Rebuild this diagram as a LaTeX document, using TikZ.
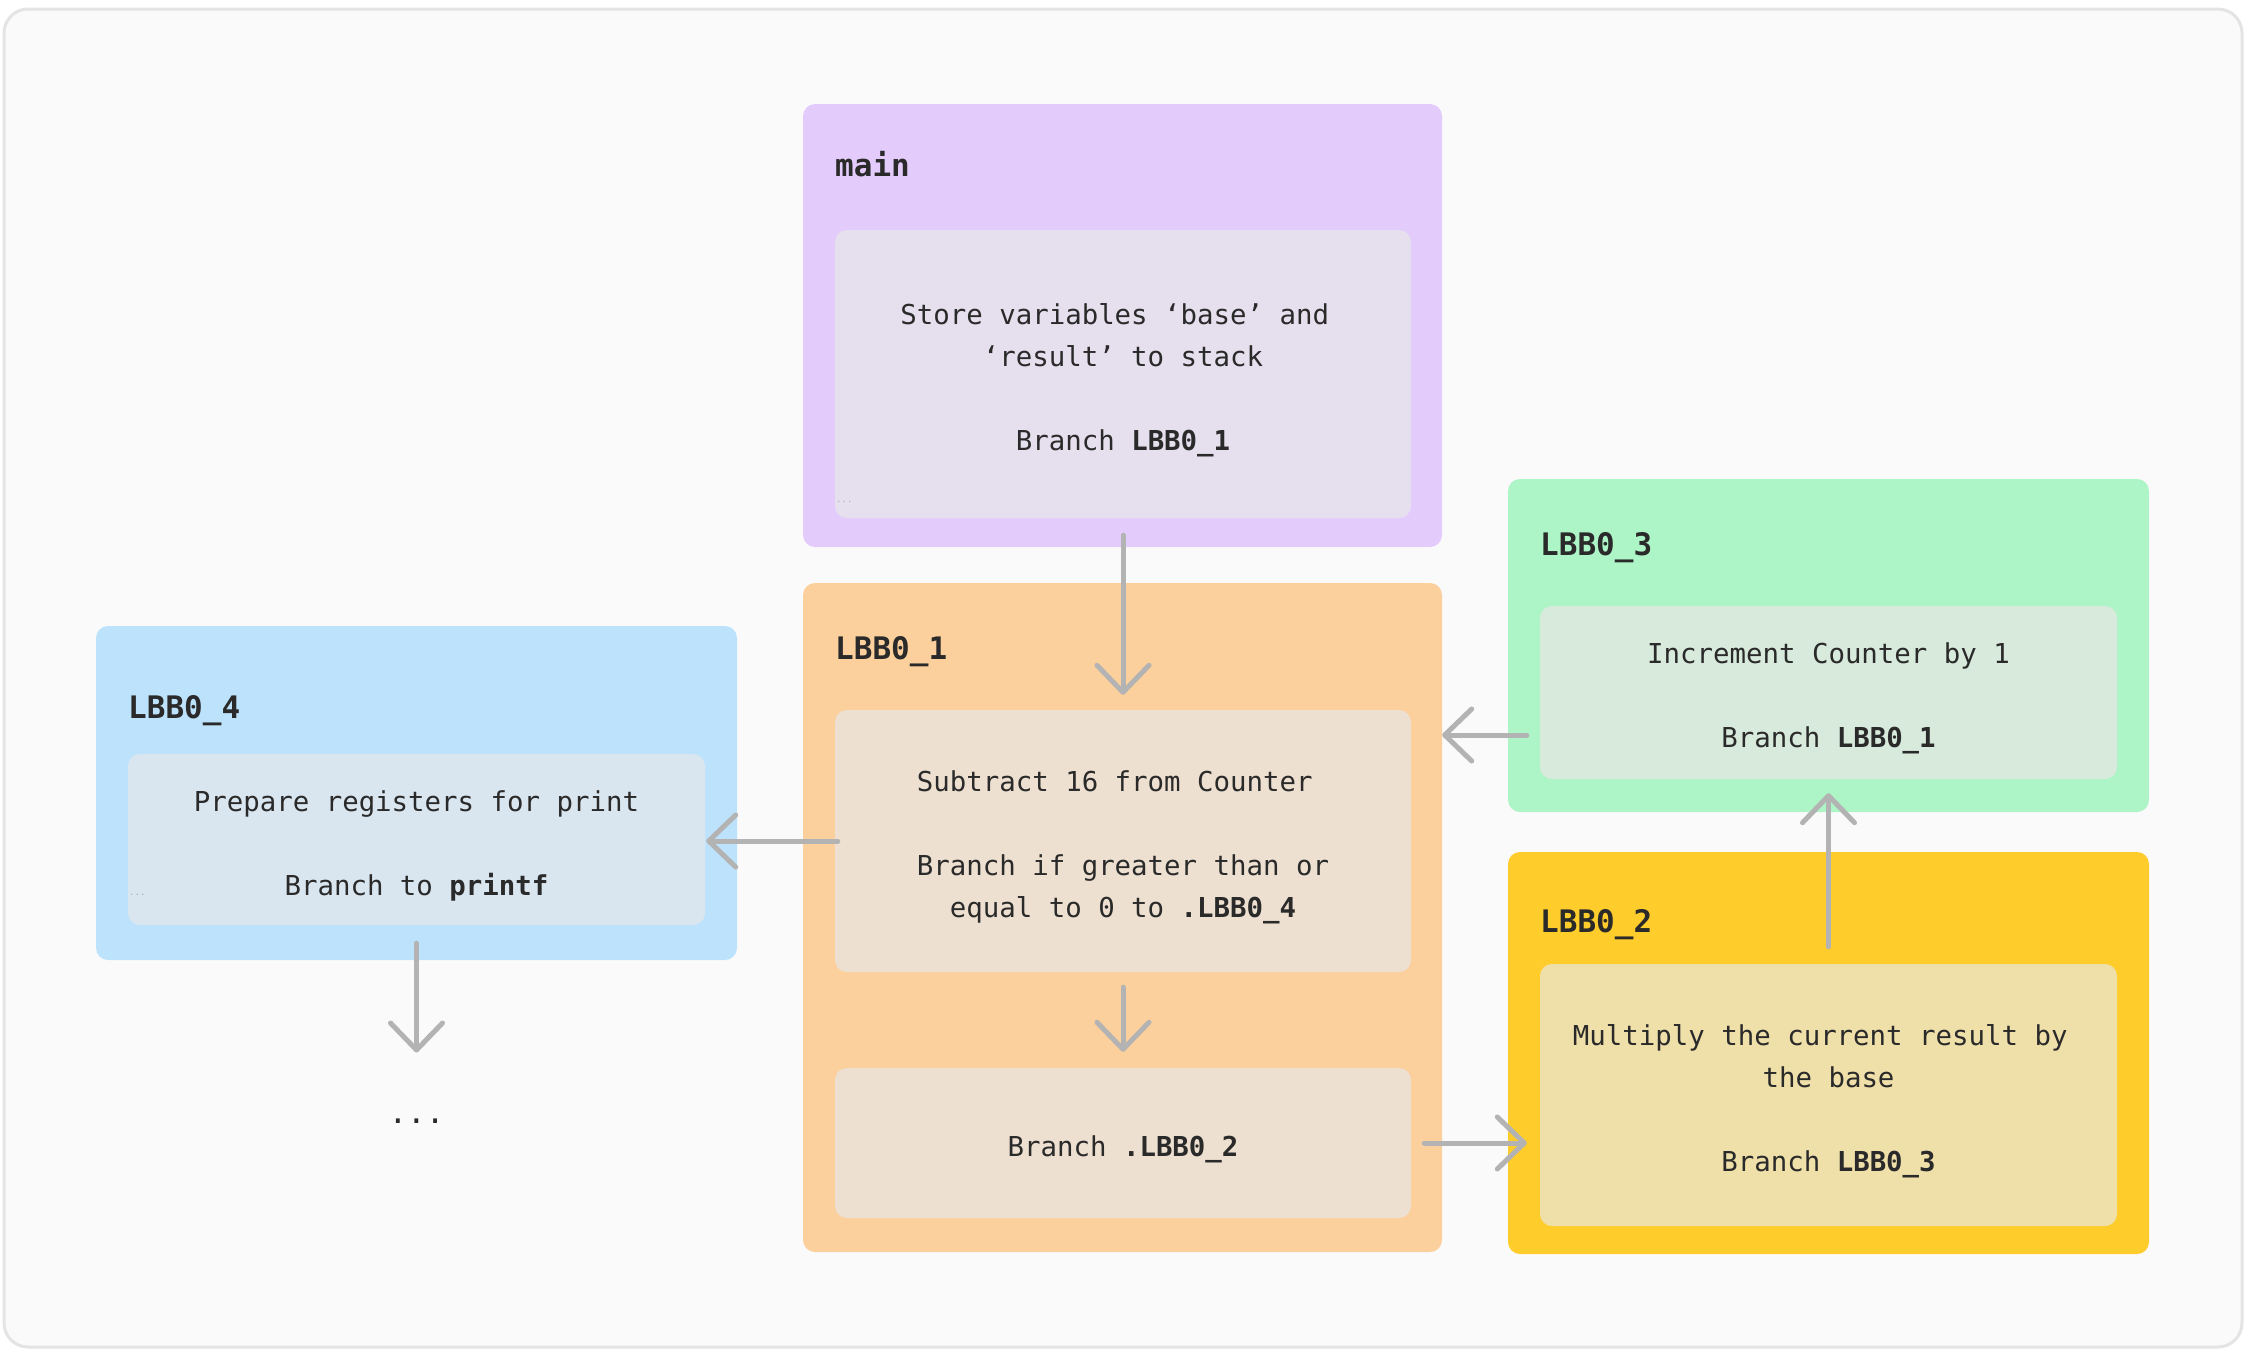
\documentclass[tikz,border=0pt]{standalone}
\usepackage{fontspec}
\setmonofont{DejaVu Sans Mono}
\usetikzlibrary{arrows.meta,calc}
\definecolor{bgc}{HTML}{FAFAFA}
\definecolor{framec}{HTML}{E4E4E4}
\definecolor{mainout}{HTML}{E3CCFC}
\definecolor{mainin}{HTML}{E6E0EE}
\definecolor{oneout}{HTML}{FBD09C}
\definecolor{onein}{HTML}{EDE0D0}
\definecolor{threeout}{HTML}{ADF4C7}
\definecolor{threein}{HTML}{D8EADC}
\definecolor{twoout}{HTML}{FFCD2B}
\definecolor{twoin}{HTML}{EFDFA9}
\definecolor{fourout}{HTML}{BDE3FC}
\definecolor{fourin}{HTML}{DAE6EF}
\definecolor{txt}{HTML}{2A2A2A}
\definecolor{arr}{HTML}{B3B3B3}
\definecolor{dotc}{HTML}{ABABAB}
\newcommand{\bodyfont}{\fontsize{27.4}{42}\selectfont\ttfamily\spaceskip=0.602em\relax}
\newcommand{\tsp}{\hspace*{0.602em}}
\begin{document}
\begin{tikzpicture}[x=1pt,y=-1pt,
  outerbox/.style={rectangle,rounded corners=12pt,inner sep=0pt,draw=none},
  innerbox/.style={rectangle,rounded corners=12pt,inner sep=0pt,draw=none},
  bodytext/.style={inner sep=0pt,align=center,text=txt,font=\bodyfont},
  titletext/.style={anchor=west,inner sep=0pt,text=txt,font=\fontsize{31}{36}\selectfont\ttfamily\bfseries},
  smalldots/.style={inner sep=0pt,text=dotc,font=\fontsize{9}{10}\selectfont\ttfamily},
  conn/.style={draw=arr,line width=5pt,line cap=round,line join=round,
    -{Straight Barb[length=27pt,width=52pt,line join=round,line cap=round]}}
]
\useasboundingbox (0,0) rectangle (2257,1355);
\draw[draw=framec,fill=bgc,line width=3pt,rounded corners=24pt] (4,9) rectangle (2242,1347);

% outer blocks
\node[outerbox,fill=mainout,minimum width=639pt,minimum height=443pt] (bmain) at (1122.5,325.5) {};
\node[outerbox,fill=oneout,minimum width=639pt,minimum height=669pt] (bone) at (1122.5,917.5) {};
\node[outerbox,fill=threeout,minimum width=641pt,minimum height=333pt] (bthree) at (1828.5,645.5) {};
\node[outerbox,fill=twoout,minimum width=641pt,minimum height=402pt] (btwo) at (1828.5,1053) {};
\node[outerbox,fill=fourout,minimum width=641pt,minimum height=334pt] (bfour) at (416.5,793) {};

% titles
\node[titletext] (tmain) at (835,164) {main};
\node[titletext] (tone) at (835,652) {LBB0\_1};
\node[titletext] (tthree) at (1540,548) {LBB0\_3};
\node[titletext] (ttwo) at (1540,925) {LBB0\_2};
\node[titletext] (tfour) at (128,711) {LBB0\_4};

% inner blocks
\node[innerbox,fill=mainin,minimum width=576pt,minimum height=288pt] (imain) at (1123,374) {};
\node[innerbox,fill=onein,minimum width=576pt,minimum height=262pt] (ione) at (1123,841) {};
\node[innerbox,fill=onein,minimum width=576pt,minimum height=150pt] (ioneb) at (1123,1143) {};
\node[innerbox,fill=threein,minimum width=577pt,minimum height=173pt] (ithree) at (1828.5,692.5) {};
\node[innerbox,fill=twoin,minimum width=577pt,minimum height=262pt] (itwo) at (1828.5,1095) {};
\node[innerbox,fill=fourin,minimum width=577pt,minimum height=171pt] (ifour) at (416.5,839.5) {};

% texts
\node[bodytext] (xmain) at ([yshift=-6pt]imain.center)
  {Store variables ‘base’ and\tsp\\‘result’ to stack\\[42pt]Branch {\bfseries LBB0\_1}};
\node[bodytext] (xone) at ([yshift=-6pt]ione.center)
  {Subtract 16 from Counter\tsp\\[42pt]Branch if greater than or\tsp\\equal to 0 to {\bfseries.LBB0\_4}};
\node[bodytext] (xoneb) at ([yshift=-6pt]ioneb.center) {Branch {\bfseries.LBB0\_2}};
\node[bodytext] (xthree) at ([yshift=-6pt]ithree.center)
  {Increment Counter by 1\\[42pt]Branch {\bfseries LBB0\_1}};
\node[bodytext] (xtwo) at ([yshift=-6pt]itwo.center)
  {Multiply the current result by\tsp\\the base\\[42pt]Branch {\bfseries LBB0\_3}};
\node[bodytext] (xfour) at ([yshift=-6pt]ifour.center)
  {Prepare registers for print\\[42pt]Branch to {\bfseries printf}};

\node[smalldots,anchor=west] (dmain) at (836,502) {...};
\node[smalldots,anchor=west] (dfour) at (129,895) {...};
\node[inner sep=0pt,text=txt,font=\fontsize{31}{36}\selectfont\ttfamily] (cont) at (416.5,1121) {...};

% connectors
\draw[conn,shorten <=17pt,shorten >=15pt] (imain.south) -- (ione.north);
\draw[conn,shorten <=15pt,shorten >=16pt] (ione.south) -- (ioneb.north);
\draw[conn,shorten <=-3pt,shorten >=1pt] (ione.west) -- (ione.west -| ifour.east);
\coordinate (s3) at ($(ithree.west)+(-13,42.5)$);
\draw[conn] (s3) -- (s3 -| bone.east);
\draw[conn,shorten <=13pt,shorten >=13pt] (ioneb.east) -- (ioneb.east -| itwo.west);
\draw[conn,shorten <=17pt,shorten >=14pt] (itwo.north) -- (ithree.south);
\draw[conn,shorten <=18pt,shorten >=66pt] (ifour.south) -- (cont.north);
\end{tikzpicture}
\end{document}
